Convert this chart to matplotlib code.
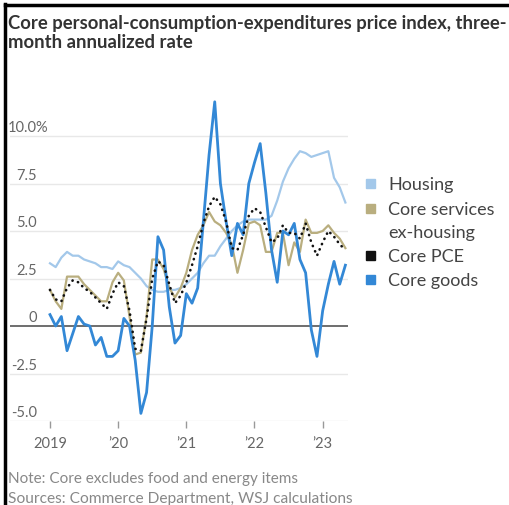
import matplotlib
matplotlib.use("Agg")
import matplotlib.pyplot as plt
from matplotlib.patches import Rectangle
from matplotlib.lines import Line2D
import numpy as np

plt.rcParams["font.family"] = ["Lato", "DejaVu Sans"]

# monthly, Jan 2019 - May 2023
months = np.arange(53)

housing = [3.3, 3.1, 3.6, 3.9, 3.7, 3.7, 3.5, 3.4, 3.3, 3.1, 3.1, 3.0,
           3.4, 3.2, 3.1, 2.8, 2.5, 2.1, 1.9, 1.8, 1.8, 1.9, 1.9, 2.0,
           2.2, 2.5, 2.8, 3.3, 3.7, 3.7, 4.2, 4.6, 5.0, 5.3, 5.5, 5.6,
           5.6, 5.6, 5.6, 5.8, 6.6, 7.6, 8.3, 8.8, 9.2, 9.1, 8.9, 9.0,
           9.1, 9.2, 7.8, 7.3, 6.5]
services_ex_housing = [1.9, 1.3, 0.9, 2.6, 2.6, 2.6, 2.2, 1.9, 1.6, 1.3, 1.3, 2.3,
                       2.8, 2.4, 0.5, -1.5, -1.4, 0.5, 3.5, 3.5, 3.0, 2.0, 1.5, 2.0,
                       2.8, 4.0, 4.8, 5.3, 6.0, 5.5, 5.3, 4.9, 4.3, 2.8, 4.0, 5.4,
                       5.5, 5.3, 3.9, 3.9, 4.9, 4.9, 3.2, 4.4, 3.9, 5.6, 4.9, 4.9,
                       5.0, 5.3, 4.9, 4.6, 4.1]
core_pce = [1.9, 1.4, 1.3, 2.0, 2.4, 2.3, 2.0, 1.8, 1.5, 1.2, 0.9, 1.7,
            2.3, 2.1, 0.8, -1.2, -1.3, 0.4, 2.5, 3.4, 3.2, 2.2, 1.2, 1.6,
            2.3, 3.2, 4.2, 5.4, 6.3, 6.8, 6.4, 5.5, 4.1, 4.0, 4.8, 5.8,
            6.2, 6.0, 5.2, 4.4, 4.6, 5.3, 4.9, 4.9, 4.6, 5.4, 4.4, 3.7,
            4.4, 5.0, 4.7, 4.3, 4.0]
core_goods = [0.6, 0.0, 0.5, -1.3, -0.4, 0.5, 0.1, 0.0, -1.0, -0.6, -1.6, -1.6,
              -1.3, 0.4, 0.0, -1.8, -4.6, -3.5, 0.0, 4.7, 4.0, 1.0, -0.9, -0.5,
              1.7, 1.2, 2.0, 5.5, 9.0, 11.8, 7.5, 5.5, 3.7, 5.4, 4.8, 7.5,
              8.6, 9.6, 7.0, 4.0, 2.3, 5.0, 4.8, 5.4, 3.5, 2.8, -0.2, -1.6,
              0.8, 2.2, 3.4, 2.2, 3.2]

y_ticks = [10.0, 7.5, 5.0, 2.5, 0, -2.5, -5.0]
y_labels = ["10.0%", "7.5", "5.0", "2.5", "0", "-2.5", "-5.0"]
x_ticks = [0, 12, 24, 36, 48]
x_labels = ["2019", "\u201920", "\u201921", "\u201922", "\u201923"]

legend_names = ["Housing", "Core services", "Core PCE", "Core goods"]
c_housing = "#a3c8ea"
c_serv = "#b9ae7f"
c_pce = "#111111"
c_goods = "#3388d6"
legend_colors = [c_housing, c_serv, c_pce, c_goods]

W, H = 509, 506
fig = plt.figure(figsize=(W / 100, H / 100), dpi=100)

# axes placement in pixels
left, right, top, bottom = 10, 348, 93.3, 422
ax = fig.add_axes([left / W, 1 - bottom / H, (right - left) / W, (bottom - top) / H])
ax.set_xlim(-7.04, 52.46)
ax.set_ylim(-5.0, 12.3)
for s in ax.spines.values():
    s.set_visible(False)
ax.set_yticks([])
ax.set_xticks(x_ticks)
ax.set_xticklabels(x_labels, fontsize=10.5, color="#666666")
ax.tick_params(axis="x", length=5, width=1, color="#999999", pad=6)

for v in y_ticks:
    if v == 0:
        ax.axhline(v, color="#555555", lw=1.2, zorder=3)
    else:
        ax.axhline(v, color="#e8e8e8", lw=1.0, zorder=0)

tr = matplotlib.transforms.blended_transform_factory(ax.transAxes, ax.transData)
for v, lab in zip(y_ticks, y_labels):
    if lab.endswith("%"):
        ax.text(-0.006, v + 0.47, lab, transform=tr, ha="left", va="center",
                fontsize=10.5, color="#666666")
    else:
        ax.text(0.08, v + 0.47, lab, transform=tr, ha="right", va="center",
                fontsize=10.5, color="#666666")

ax.plot(months, housing, color=c_housing, lw=1.6, zorder=2)
ax.plot(months, services_ex_housing, color=c_serv, lw=1.6, zorder=2)
ax.plot(months, core_goods, color=c_goods, lw=2.0, zorder=4)
ax.plot(months, core_pce, color=c_pce, lw=1.9, ls=(0, (0.1, 2.1)),
        dash_capstyle="round", zorder=5)

# legend
leg_y = [185, 210, 257, 281]
for name, col, yy in zip(legend_names, legend_colors, leg_y):
    fig.patches.append(Rectangle((366 / W, 1 - (yy + 4) / H), 9 / W, 9 / H,
                                 transform=fig.transFigure, color=col))
    fig.text(388 / W, 1 - yy / H, name, ha="left", va="center",
             fontsize=13, color="#444444")
fig.text(388 / W, 1 - 233 / H, "ex-housing", ha="left", va="center",
         fontsize=13, color="#444444")

# title and notes
fig.text(8 / W, 1 - 33 / H, "Core personal-consumption-expenditures price index, three-\nmonth annualized rate",
         ha="left", va="center", fontsize=13.3, fontweight="bold", color="#333333", linespacing=1.2)
fig.text(8 / W, 1 - 479 / H, "Note: Core excludes food and energy items",
         ha="left", va="center", fontsize=11, color="#888888")
fig.text(8 / W, 1 - 499 / H, "Sources: Commerce Department, WSJ calculations",
         ha="left", va="center", fontsize=11.2, color="#888888")

# screenshot frame
fig.add_artist(Line2D([5 / W, 5 / W], [0, 1 - 5 / H], transform=fig.transFigure, color="black", lw=2.5))
fig.add_artist(Line2D([5 / W, 1], [1 - 6 / H, 1 - 6 / H], transform=fig.transFigure, color="black", lw=2.5))

fig.savefig("out.png", dpi=100)
